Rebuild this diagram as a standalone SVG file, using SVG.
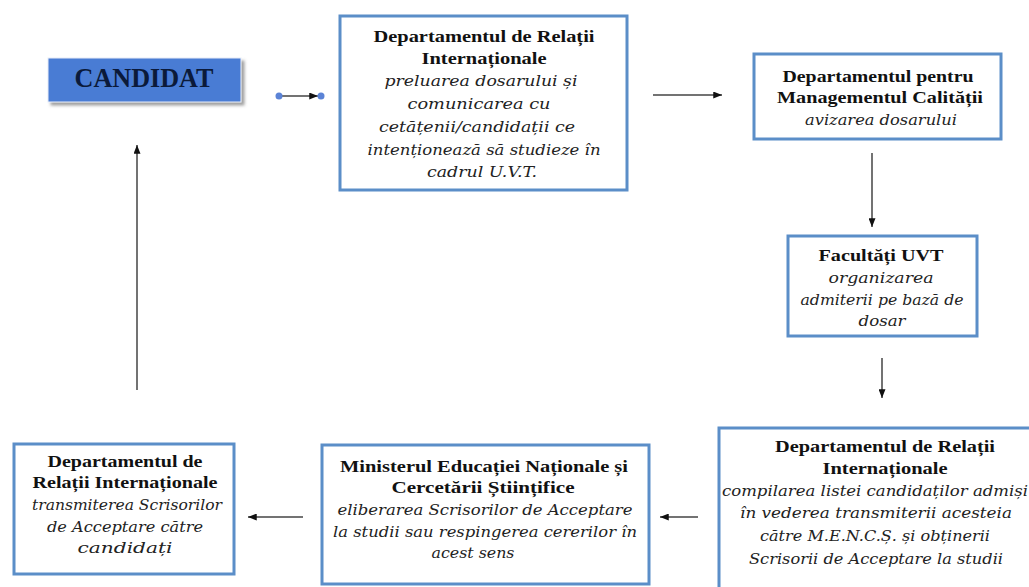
<svg xmlns="http://www.w3.org/2000/svg" width="1029" height="587" viewBox="0 0 1029 587">
<defs>
<marker id="ah" viewBox="0 0 10 8" refX="10" refY="4" markerWidth="9" markerHeight="7" markerUnits="userSpaceOnUse" orient="auto">
<path d="M0,0 L10,4 L0,8 z" fill="#111"/>
</marker>
<filter id="sh" x="-10%" y="-20%" width="130%" height="160%">
<feDropShadow dx="3" dy="3" stdDeviation="1.5" flood-color="#888" flood-opacity="0.8"/>
</filter>
</defs>
<style>
.box{fill:#fff;stroke:#5b8ec8;stroke-width:3}
.b{font-family:'Liberation Serif',serif;font-weight:bold;font-size:17px;fill:#111;text-anchor:middle}
.i{font-family:'DejaVu Serif',serif;font-style:italic;font-size:15.5px;fill:#222;text-anchor:middle}
.cn{stroke:#444;stroke-width:1.5;fill:none}
.dot{fill:#5b83d6}
</style>
<rect width="1029" height="587" fill="#fff"/>
<g id="connectors">
<line class="cn" x1="282" y1="96" x2="318" y2="96" marker-end="url(#ah)"/>
<circle class="dot" cx="279" cy="96" r="3.5"/>
<circle class="dot" cx="321" cy="96" r="3.5"/>
<line class="cn" x1="653" y1="95" x2="722" y2="95" marker-end="url(#ah)"/>
<line class="cn" x1="872" y1="153" x2="872" y2="227" marker-end="url(#ah)"/>
<line class="cn" x1="882" y1="358" x2="882" y2="398" marker-end="url(#ah)"/>
<line class="cn" x1="698" y1="517" x2="660" y2="517" marker-end="url(#ah)"/>
<line class="cn" x1="303" y1="517" x2="248" y2="517" marker-end="url(#ah)"/>
<line class="cn" x1="137" y1="390" x2="137" y2="145" marker-end="url(#ah)"/>
</g>
<g id="candidat">
<rect x="48" y="58" width="193" height="44" fill="#4a7bd4" stroke="#e8eef8" stroke-width="1" filter="url(#sh)"/>
<text x="144" y="87" class="b" style="font-size:27px;fill:#0b1a3a" textLength="139" lengthAdjust="spacingAndGlyphs">CANDIDAT</text>
</g>
<g id="dri1">
<rect class="box" x="340" y="16" width="287" height="174"/>
<text class="b" x="484" y="42" textLength="221" lengthAdjust="spacingAndGlyphs">Departamentul de Relații</text>
<text class="b" x="484" y="64" textLength="125" lengthAdjust="spacingAndGlyphs">Internaționale</text>
<text class="i" x="481" y="86" textLength="193" lengthAdjust="spacingAndGlyphs">preluarea dosarului și</text>
<text class="i" x="479" y="109" textLength="143" lengthAdjust="spacingAndGlyphs">comunicarea cu</text>
<text class="i" x="477" y="132" textLength="196" lengthAdjust="spacingAndGlyphs">cetățenii/candidații ce</text>
<text class="i" x="484" y="155" textLength="233" lengthAdjust="spacingAndGlyphs">intenționează să studieze în</text>
<text class="i" x="482" y="177" textLength="110" lengthAdjust="spacingAndGlyphs">cadrul U.V.T.</text>
</g>
<g id="dmc">
<rect class="box" x="754" y="54" width="247" height="85"/>
<text class="b" x="878" y="82" textLength="191" lengthAdjust="spacingAndGlyphs">Departamentul pentru</text>
<text class="b" x="880" y="103" textLength="206" lengthAdjust="spacingAndGlyphs">Managementul Calității</text>
<text class="i" x="881" y="125" textLength="152" lengthAdjust="spacingAndGlyphs">avizarea dosarului</text>
</g>
<g id="facultati">
<rect class="box" x="788" y="236" width="189" height="100"/>
<text class="b" x="881" y="261" textLength="125" lengthAdjust="spacingAndGlyphs">Facultăți UVT</text>
<text class="i" x="881" y="283" textLength="105" lengthAdjust="spacingAndGlyphs">organizarea</text>
<text class="i" x="882" y="305" textLength="163" lengthAdjust="spacingAndGlyphs">admiterii pe bază de</text>
<text class="i" x="882" y="326" textLength="47" lengthAdjust="spacingAndGlyphs">dosar</text>
</g>
<g id="dri2">
<rect class="box" x="719" y="428" width="330" height="175"/>
<text class="b" x="885" y="452" textLength="220" lengthAdjust="spacingAndGlyphs">Departamentul de Relații</text>
<text class="b" x="885" y="474" textLength="125" lengthAdjust="spacingAndGlyphs">Internaționale</text>
<text class="i" x="875" y="496" textLength="306" lengthAdjust="spacingAndGlyphs">compilarea listei candidaților admiși</text>
<text class="i" x="876" y="518" textLength="272" lengthAdjust="spacingAndGlyphs">în vederea transmiterii acesteia</text>
<text class="i" x="875" y="541" textLength="230" lengthAdjust="spacingAndGlyphs">către M.E.N.C.Ș. și obținerii</text>
<text class="i" x="876" y="564" textLength="254" lengthAdjust="spacingAndGlyphs">Scrisorii de Acceptare la studii</text>
</g>
<g id="mencs">
<rect class="box" x="322" y="445" width="327" height="139"/>
<text class="b" x="484" y="472" textLength="288" lengthAdjust="spacingAndGlyphs">Ministerul Educației Naționale și</text>
<text class="b" x="483" y="493" textLength="183" lengthAdjust="spacingAndGlyphs">Cercetării Științifice</text>
<text class="i" x="485" y="515" textLength="295" lengthAdjust="spacingAndGlyphs">eliberarea Scrisorilor de Acceptare</text>
<text class="i" x="485" y="537" textLength="304" lengthAdjust="spacingAndGlyphs">la studii sau respingerea cererilor în</text>
<text class="i" x="473" y="558" textLength="83" lengthAdjust="spacingAndGlyphs">acest sens</text>
</g>
<g id="dri3">
<rect class="box" x="14" y="444" width="220" height="130"/>
<text class="b" x="125" y="467" textLength="155" lengthAdjust="spacingAndGlyphs">Departamentul de</text>
<text class="b" x="125" y="488" textLength="185" lengthAdjust="spacingAndGlyphs">Relații Internaționale</text>
<text class="i" x="127" y="510" textLength="190" lengthAdjust="spacingAndGlyphs">transmiterea Scrisorilor</text>
<text class="i" x="125" y="532" textLength="156" lengthAdjust="spacingAndGlyphs">de Acceptare către</text>
<text class="i" x="125" y="553" textLength="95" lengthAdjust="spacingAndGlyphs">candidați</text>
</g>
</svg>
